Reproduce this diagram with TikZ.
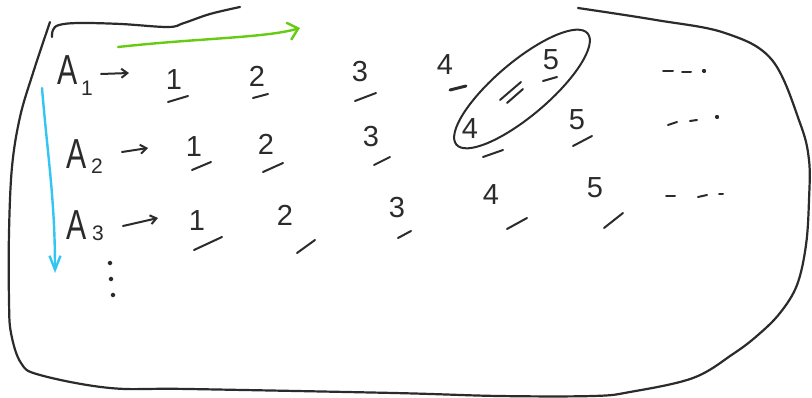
\documentclass[tikz,border=0pt]{standalone}
\usepackage{fontspec}
\setmainfont{Liberation Sans}
\newfontfamily\narrowA[FakeStretch=0.72]{Liberation Sans}
\usetikzlibrary{arrows.meta}
\definecolor{pen}{HTML}{2B2B2B}
\definecolor{greenpen}{HTML}{66CC11}
\definecolor{bluepen}{HTML}{33C6F2}
\begin{document}
\begin{tikzpicture}[x=1pt,y=-1pt,
  pen/.style={draw=pen, line width=2.2pt, line cap=round, line join=round},
  slot/.style={draw=pen, line width=2pt, line cap=round},
  bigA/.style={inner sep=0pt, text=pen, font=\narrowA\fontsize{42}{42}\selectfont},
  sub/.style={inner sep=0pt, text=pen, font=\fontsize{21}{21}\selectfont},
  dig/.style={inner sep=0pt, text=pen, font=\fontsize{29}{29}\selectfont},
  smalltip/.style={-{Straight Barb[length=6pt,width=9pt]}},
]
\useasboundingbox (0,0) rectangle (812,398);
\fill[white] (0,0) rectangle (812,398);

% outer frame
\draw[pen] plot[smooth, tension=0.6] coordinates {
  (578,8) (656,20) (725,33) (772,60) (800,123) (809,160) (809,200) (806,245)
  (797,285) (780,313) (758,335) (733,354) (693,378) (630,392) (593,396)
  (499,396) (394,393) (189,389) (110,388) (40,375) (21,363) (11,333) (9,300)
  (9,233) (12,167) (20,117) (33,73) (50,22)};
\draw[pen] plot[smooth, tension=0.6] coordinates {
  (52,37) (53,30) (59,25) (79,23) (121,24) (168,27) (184,23) (210,14) (240,7)};

% row labels
\node[bigA] (a1) at (68,70) {A};
\node[sub]  (s1) at (87,88) {1};
\node[bigA] (a2) at (77,154) {A};
\node[sub]  (s2) at (97,166) {2};
\node[bigA] (a3) at (77,225) {A};
\node[sub]  (s3) at (98,233) {3};

\coordinate (r1s) at (101,74); \coordinate (r1e) at (129,73);
\coordinate (r2s) at (122,152); \coordinate (r2e) at (148,148);
\coordinate (r3s) at (123,226); \coordinate (r3e) at (158,218);
\draw[pen, line width=2pt, smalltip] (r1s) -- (r1e);
\draw[pen, line width=2pt, smalltip] (r2s) -- (r2e);
\draw[pen, line width=2pt, smalltip] (r3s) -- (r3e);

% row 1
\node[dig] (d11) at (174,80) {1};
\node[dig] (d12) at (257,76) {2};
\node[dig] (d13) at (360,72) {3};
\node[dig] (d14) at (445,65) {4};
\node[dig] (d15) at (551,60) {5};
% row 2
\node[dig] (d21) at (194,147) {1};
\node[dig] (d22) at (266,144) {2};
\node[dig] (d23) at (371,137) {3};
\node[dig] (d24) at (470,129) {4};
\node[dig] (d25) at (577,120) {5};
% row 3
\node[dig] (d31) at (197,221) {1};
\node[dig] (d32) at (285,215) {2};
\node[dig] (d33) at (397,208) {3};
\node[dig] (d34) at (491,195) {4};
\node[dig] (d35) at (595,188) {5};

% slots under digits
\draw[slot] (168,102) -- (188,96);
\draw[slot] (253,98) -- (268,94);
\draw[slot] (355,101) -- (376,93);
\draw[slot, line width=3pt] (450,90) -- (466,86);
\draw[slot] (543,81) -- (557,77);

\draw[slot] (192,170) -- (211,162);
\draw[slot] (263,172) -- (283,163);
\draw[slot] (374,165) -- (390,157);
\draw[slot] (483,157) -- (503,150);
\draw[slot] (573,146) -- (592,136);

\draw[slot] (194,250) -- (222,237);
\draw[slot] (297,253) -- (315,240);
\draw[slot] (398,238) -- (411,231);
\draw[slot] (507,229) -- (527,218);
\draw[slot] (604,228) -- (623,213);

% continuation marks
\draw[slot] (663,71) -- (673,71);
\draw[slot] (682,72) -- (691,72);
\fill[pen] (704,71) circle (1.2);
\draw[slot] (668,125) -- (677,122);
\draw[slot] (690,121) -- (697,120);
\fill[pen] (717,117) circle (1.2);
\draw[slot] (666,196) -- (675,196);
\draw[slot] (698,197) -- (707,195);
\draw[slot] (719,194) -- (723,194);

% vertical dots
\fill[pen] (110,263) circle (1.3);
\fill[pen] (111,279) circle (1.3);
\fill[pen] (113,295) circle (1.3);

% equality loop
\draw[pen, line width=2pt, rotate around={40.3:(522,89)}] (522,89) ellipse [x radius=86, y radius=27];
\draw[slot] (500,100) -- (521,82);
\draw[slot] (507,103) -- (523,89);

% direction arrows
\coordinate (gs) at (118,47); \coordinate (ge) at (300,28);
\draw[greenpen, line width=2.4pt, line cap=round, -{Straight Barb[length=10pt,width=18pt]}]
  (gs) .. controls (200,38) and (265,38) .. (ge);
\coordinate (bs) at (42,88); \coordinate (be) at (55,273);
\draw[bluepen, line width=2.4pt, line cap=round, -{Straight Barb[length=14pt,width=11pt]}]
  (bs) .. controls (48,160) and (55,200) .. (be);
\end{tikzpicture}
\end{document}
